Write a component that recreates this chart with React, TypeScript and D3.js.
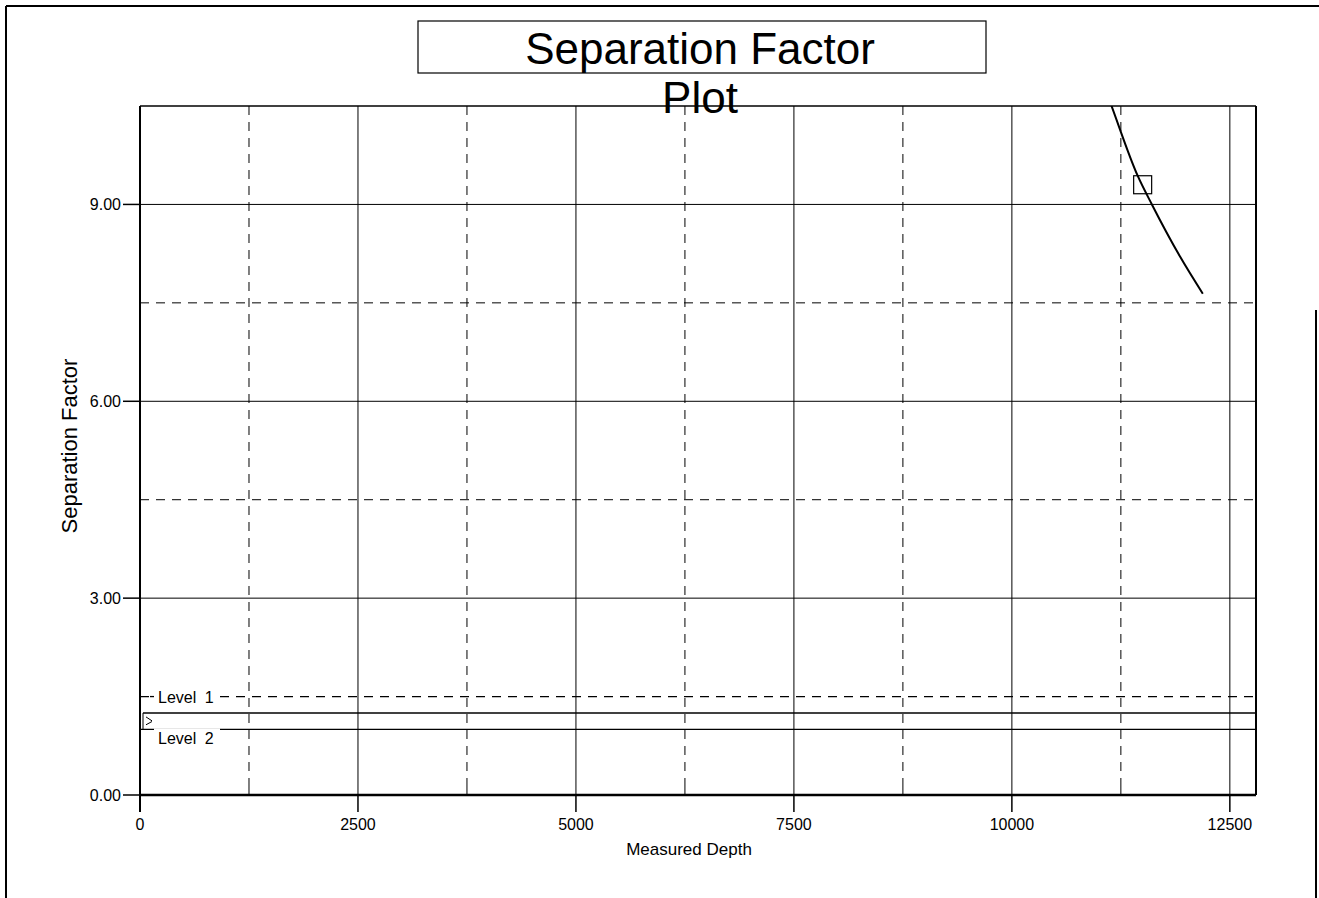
import React from "react";
import * as d3 from "d3";

const W = 1319;
const H = 898;

// Data
const xTicks = [0, 2500, 5000, 7500, 10000, 12500];
const xMinorTicks = [1250, 3750, 6250, 8750, 11250];
const yTicks = [0, 3, 6, 9];
const yTickLabels = ["0.00", "3.00", "6.00", "9.00"];
const yMinorTicks = [1.5, 4.5, 7.5];
const curveDepth = [11060, 11135, 11445, 11606, 11927, 12190];
const curveSF = [10.8, 10.53, 9.43, 9.0, 8.21, 7.64];
const markerDepth = [11500];
const markerSF = [9.3];
const levelValues = [1.5, 1.25, 1.0];
const levelLabels = ["Level 1", "", "Level 2"];
const levelDashed = [true, false, false];

const margin = { left: 140, right: 1256, top: 106, bottom: 795 };

export default function App() {
  const x = d3.scaleLinear().domain([0, 12800]).range([margin.left, margin.right]);
  const y = d3.scaleLinear().domain([0, 10.5]).range([margin.bottom, margin.top]);

  const pts: [number, number][] = curveDepth.map((d, i) => [d, curveSF[i]]);
  const line = d3
    .line<[number, number]>()
    .x((d) => x(d[0]))
    .y((d) => y(d[1]))
    .curve(d3.curveMonotoneX);

  const font = "'Liberation Sans', Arial, Helvetica, sans-serif";
  const dash = "9,7";

  return (
    <svg
      width={W}
      height={H}
      style={{ position: "absolute", left: 0, top: 0, background: "#fff" }}
      fontFamily={font}
    >
      <defs>
        <clipPath id="plotClip">
          <rect x={margin.left} y={margin.top} width={margin.right - margin.left} height={margin.bottom - margin.top} />
        </clipPath>
      </defs>
      <rect x={0} y={0} width={W} height={H} fill="#fff" />
      {/* outer frame */}
      <line x1={6} y1={6} x2={W} y2={6} stroke="#000" strokeWidth={2} />
      <line x1={6} y1={6} x2={6} y2={H} stroke="#000" strokeWidth={2} />
      <line x1={1316} y1={310} x2={1316} y2={H} stroke="#000" strokeWidth={2} />

      {/* title box */}
      <rect x={418} y={21} width={568} height={52} fill="#fff" stroke="#000" strokeWidth={1.2} />
      <text x={700} y={64} textAnchor="middle" fontSize={44}>
        Separation Factor
      </text>

      {/* grid: vertical */}
      {xTicks.slice(1).map((t) => (
        <line key={"gv" + t} x1={x(t)} x2={x(t)} y1={margin.top} y2={margin.bottom} stroke="#000" strokeWidth={1} />
      ))}
      {xMinorTicks.map((t) => (
        <line
          key={"gvm" + t}
          x1={x(t)}
          x2={x(t)}
          y1={margin.top}
          y2={margin.bottom}
          stroke="#000"
          strokeWidth={1}
          strokeDasharray={dash}
        />
      ))}
      {/* grid: horizontal */}
      {yTicks.slice(1).map((t) => (
        <line key={"gh" + t} x1={margin.left} x2={margin.right} y1={y(t)} y2={y(t)} stroke="#000" strokeWidth={1} />
      ))}
      {yMinorTicks.slice(1).map((t) => (
        <line
          key={"ghm" + t}
          x1={margin.left}
          x2={margin.right}
          y1={y(t)}
          y2={y(t)}
          stroke="#000"
          strokeWidth={1}
          strokeDasharray={dash}
        />
      ))}

      {/* levels */}
      {levelValues.map((v, i) => (
        <line
          key={"lv" + i}
          x1={margin.left + (i === 1 ? 3 : 0)}
          x2={margin.right}
          y1={y(v)}
          y2={y(v)}
          stroke="#000"
          strokeWidth={1.3}
          strokeDasharray={levelDashed[i] ? dash : undefined}
        />
      ))}
      {/* level labels with white background */}
      <rect x={156} y={y(levelValues[0]) - 9} width={64} height={18} fill="#fff" />
      <text x={158} y={y(levelValues[0]) + 6} fontSize={16} wordSpacing={4}>
        {levelLabels[0]}
      </text>
      <line x1={150} x2={154} y1={y(levelValues[0])} y2={y(levelValues[0])} stroke="#000" strokeWidth={1.3} />
      <rect x={154} y={y(levelValues[2]) - 1} width={66} height={19} fill="#fff" />
      <text x={158} y={y(levelValues[2]) + 15} fontSize={16} wordSpacing={4}>
        {levelLabels[2]}
      </text>
      <line x1={143} x2={143} y1={y(levelValues[1])} y2={y(levelValues[2])} stroke="#000" strokeWidth={1} />
      <path d={`M146,${y(1.19)} L152,${y(1.13)} M146,${y(1.07)} L152,${y(1.12)}`} stroke="#000" strokeWidth={1} fill="none" />

      {/* curve */}
      <g clipPath="url(#plotClip)">
        <path d={line(pts) || ""} fill="none" stroke="#000" strokeWidth={2} />
      </g>
      {markerDepth.map((d, i) => (
        <rect key={"mk" + i} x={x(d) - 9} y={y(markerSF[i]) - 9} width={18} height={18} fill="none" stroke="#000" strokeWidth={1.2} />
      ))}

      {/* plot border */}
      <line x1={margin.left} x2={margin.right} y1={margin.top} y2={margin.top} stroke="#000" strokeWidth={1.5} />
      <line x1={margin.right} x2={margin.right} y1={margin.top} y2={margin.bottom} stroke="#000" strokeWidth={2} />

      {/* axes */}
      <line x1={margin.left} x2={margin.left} y1={margin.top} y2={812} stroke="#000" strokeWidth={2} />
      <line x1={margin.left} x2={margin.right} y1={margin.bottom} y2={margin.bottom} stroke="#000" strokeWidth={2.5} />

      {/* x ticks */}
      {xTicks.map((t) => (
        <g key={"xt" + t}>
          <line x1={x(t)} x2={x(t)} y1={margin.bottom} y2={812} stroke="#000" strokeWidth={1.5} />
          <text x={x(t)} y={830} textAnchor="middle" fontSize={16}>
            {t}
          </text>
        </g>
      ))}
      {xMinorTicks.map((t) => (
        <line key={"xmt" + t} x1={x(t)} x2={x(t)} y1={787} y2={margin.bottom} stroke="#000" strokeWidth={1} />
      ))}
      {/* y ticks */}
      {yTicks.map((t, i) => (
        <g key={"yt" + t}>
          <line x1={123} x2={margin.left} y1={y(t)} y2={y(t)} stroke="#000" strokeWidth={1.5} />
          <text x={121} y={y(t) + 6} textAnchor="end" fontSize={16}>
            {yTickLabels[i]}
          </text>
        </g>
      ))}

      {/* title second line */}
      <text x={700} y={113} textAnchor="middle" fontSize={44}>
        Plot
      </text>

      {/* axis labels */}
      <text x={689} y={855} textAnchor="middle" fontSize={17}>
        Measured Depth
      </text>
      <text transform="translate(77,446) rotate(-90)" textAnchor="middle" fontSize={22}>
        Separation Factor
      </text>
    </svg>
  );
}
